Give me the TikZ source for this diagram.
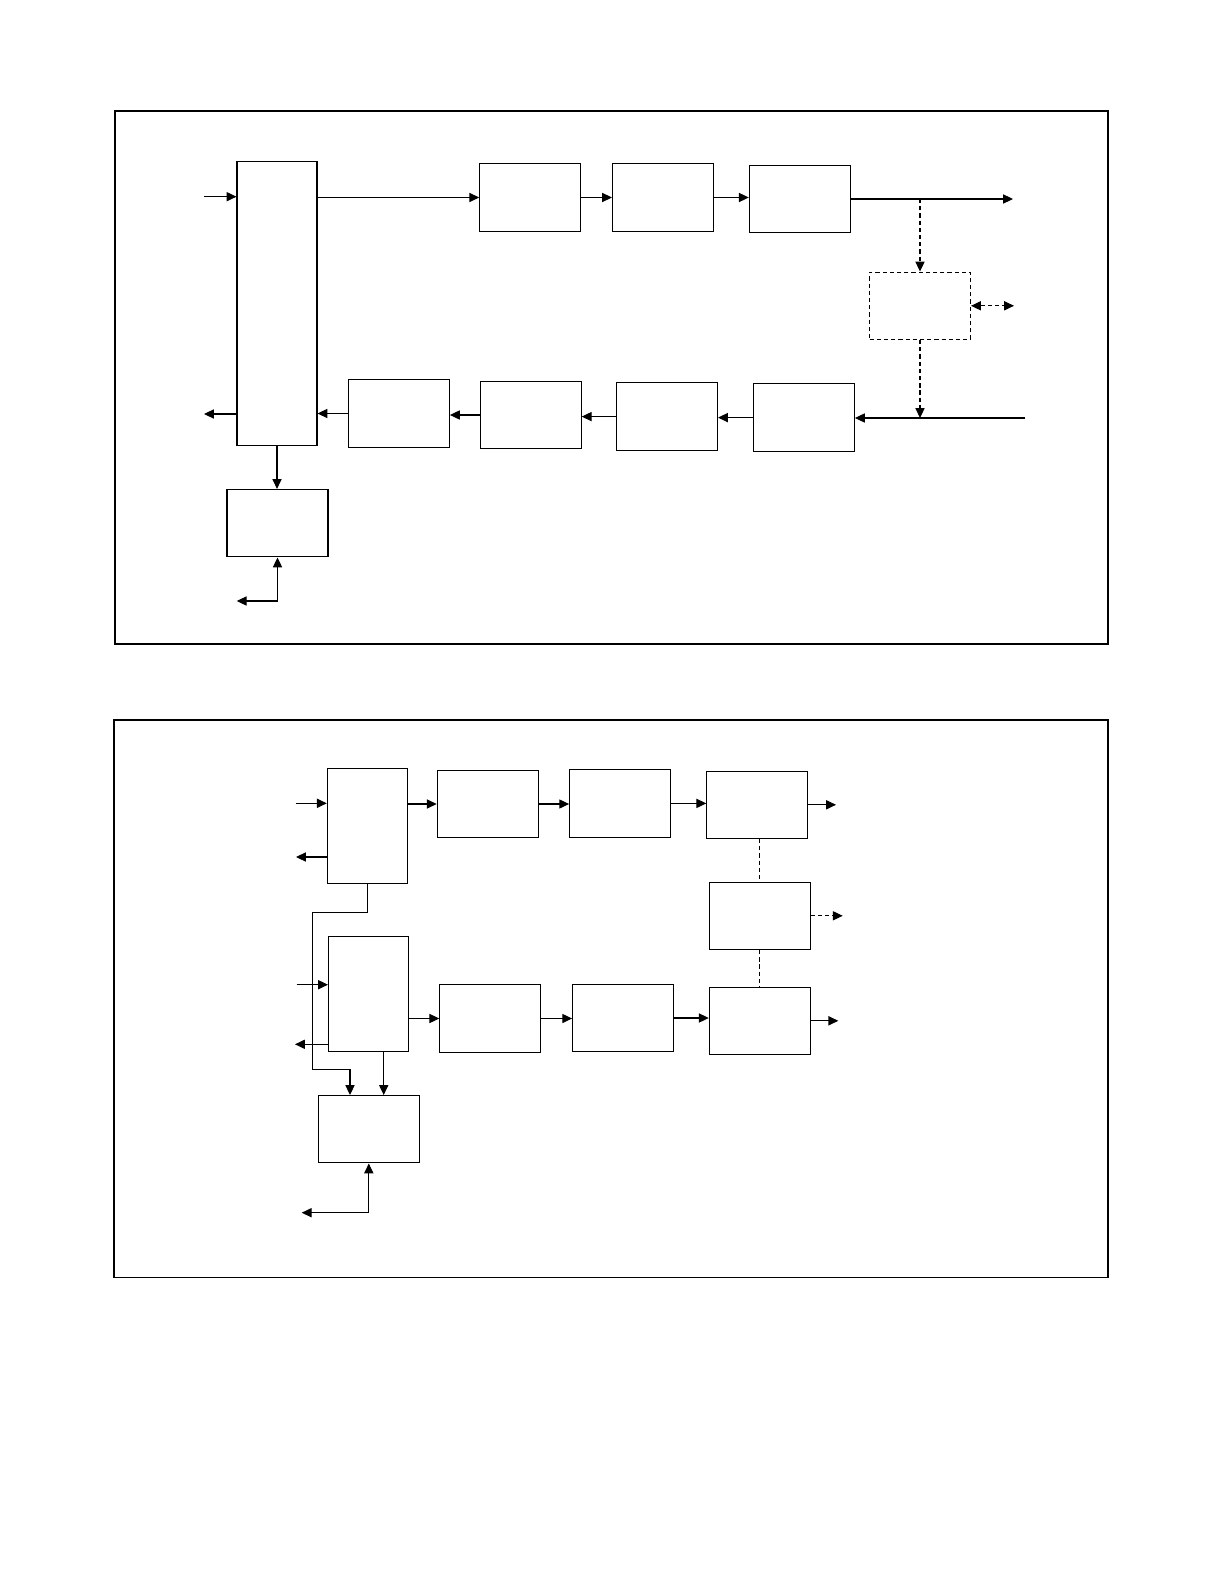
\documentclass[tikz,border=0pt]{standalone}
\usetikzlibrary{arrows.meta}
\begin{document}
\begin{tikzpicture}[x=0.02cm, y=-0.02cm, line width=0.6pt,
  >={Triangle[length=5.6pt, width=5.2pt]},
  blk/.style={draw, rectangle, inner sep=0pt, minimum width=2.02cm, minimum height=1.35cm},
  tall/.style={blk, minimum width=1.6cm},
  dblk/.style={blk, dash pattern=on 2.4pt off 1.7pt},
  arr/.style={->}, bi/.style={<->},
  darr/.style={->, dash pattern=on 2.4pt off 1.7pt},
  dbi/.style={<->, dash pattern=on 2.4pt off 1.7pt},
  dln/.style={dash pattern=on 2.4pt off 1.7pt}]
\useasboundingbox (0,0) rectangle (1224,1584);
% upper figure
\draw (115,111) rectangle (1108,644);
\node[tall, minimum height=5.68cm] (big) at (277,303.3) {};
\node[blk] (a1) at (530.2,197.5) {};
\node[blk] (a2) at (663,197.5) {};
\node[blk] (a3) at (799.8,199) {};
\node[dblk] (ctl) at (920,305.8) {};
\node[blk] (b4) at (803.9,417.6) {};
\node[blk] (b3) at (667,416.6) {};
\node[blk] (b2) at (530.7,415) {};
\node[blk] (b1) at (398.9,413.5) {};
\node[blk] (mem) at (277.5,523.2) {};
\coordinate (in1) at (204,196.7);
\coordinate (out1) at (1013,199);
\coordinate (tap) at (920,199);
\coordinate (io) at (1014,305.8);
\coordinate (in2) at (1025,418);
\coordinate (out2) at (204,414);
\coordinate (ext) at (236.7,601);
\draw[arr] (in1) -- (in1 -| big.west);
\draw[arr] (big.east |- a1.west) -- (a1.west);
\draw[arr] (a1.east) -- (a2.west);
\draw[arr] (a2.east) -- (a2.east -| a3.west);
\draw[arr] (a3.east) -- (out1);
\draw[darr] (tap) -- (ctl.north);
\draw[dbi] (ctl.east) -- (io);
\draw[darr] (ctl.south) -- (ctl.south |- in2);
\draw[arr] (in2) -- (in2 -| b4.east);
\draw[arr] (b4.west) -- (b4.west -| b3.east);
\draw[arr] (b3.west) -- (b3.west -| b2.east);
\draw[arr] (b2.west) -- (b2.west -| b1.east);
\draw[arr] (b1.west) -- (b1.west -| big.east);
\draw[arr] (big.west |- out2) -- (out2);
\draw[arr] (big.south) -- (big.south |- mem.north);
\draw[bi] (ext) -- (mem.south |- ext) -- (mem.south);
% lower figure
\draw (114,720) rectangle (1108,1277.5);
\node[tall, minimum height=2.3cm] (c1) at (367.3,825.8) {};
\node[blk] (d1) at (487.7,804) {};
\node[blk] (d2) at (620.1,803.4) {};
\node[blk] (d3) at (757.3,804.8) {};
\node[blk] (mid) at (759.8,915.8) {};
\node[tall, minimum height=2.3cm] (c2) at (368.5,993.8) {};
\node[blk] (e1) at (490.3,1018.5) {};
\node[blk] (e2) at (623.1,1018) {};
\node[blk] (e3) at (759.8,1020.8) {};
\node[blk] (mem2) at (368.8,1129.2) {};
\coordinate (in3) at (295.7,803.3);
\coordinate (out3) at (296,857);
\coordinate (out4) at (836,804.8);
\coordinate (out5) at (842.7,915.8);
\coordinate (in4) at (296.7,984.7);
\coordinate (out6) at (295,1044.3);
\coordinate (out7) at (838.3,1020.8);
\coordinate (j1) at (312.3,912.3);
\coordinate (j2) at (312.3,1069.3);
\coordinate (m2l) at (350,1095);
\coordinate (m2r) at (383.7,1095);
\coordinate (ext2) at (301.7,1212.7);
\draw[arr] (in3) -- (in3 -| c1.west);
\draw[arr] (c1.west |- out3) -- (out3);
\draw[arr] (c1.east |- d1.west) -- (d1.west);
\draw[arr] (d1.east) -- (d1.east -| d2.west);
\draw[arr] (d2.east) -- (d2.east -| d3.west);
\draw[arr] (d3.east) -- (out4);
\draw[dln] (mid.north |- d3.south) -- (mid.north);
\draw[dln] (mid.south) -- (mid.south |- e3.north);
\draw[darr] (mid.east) -- (out5);
\draw[arr] (in4) -- (in4 -| c2.west);
\draw[arr] (c2.west |- out6) -- (out6);
\draw[arr] (c2.east |- e1.west) -- (e1.west);
\draw[arr] (e1.east) -- (e1.east -| e2.west);
\draw[arr] (e2.east) -- (e2.east -| e3.west);
\draw[arr] (e3.east) -- (out7);
\draw[arr] (c1.south) |- (j1) -- (j2) -| (m2l);
\draw[arr] (c2.south -| m2r) -- (m2r);
\draw[bi] (ext2) -- (mem2.south |- ext2) -- (mem2.south);
\end{tikzpicture}
\end{document}
